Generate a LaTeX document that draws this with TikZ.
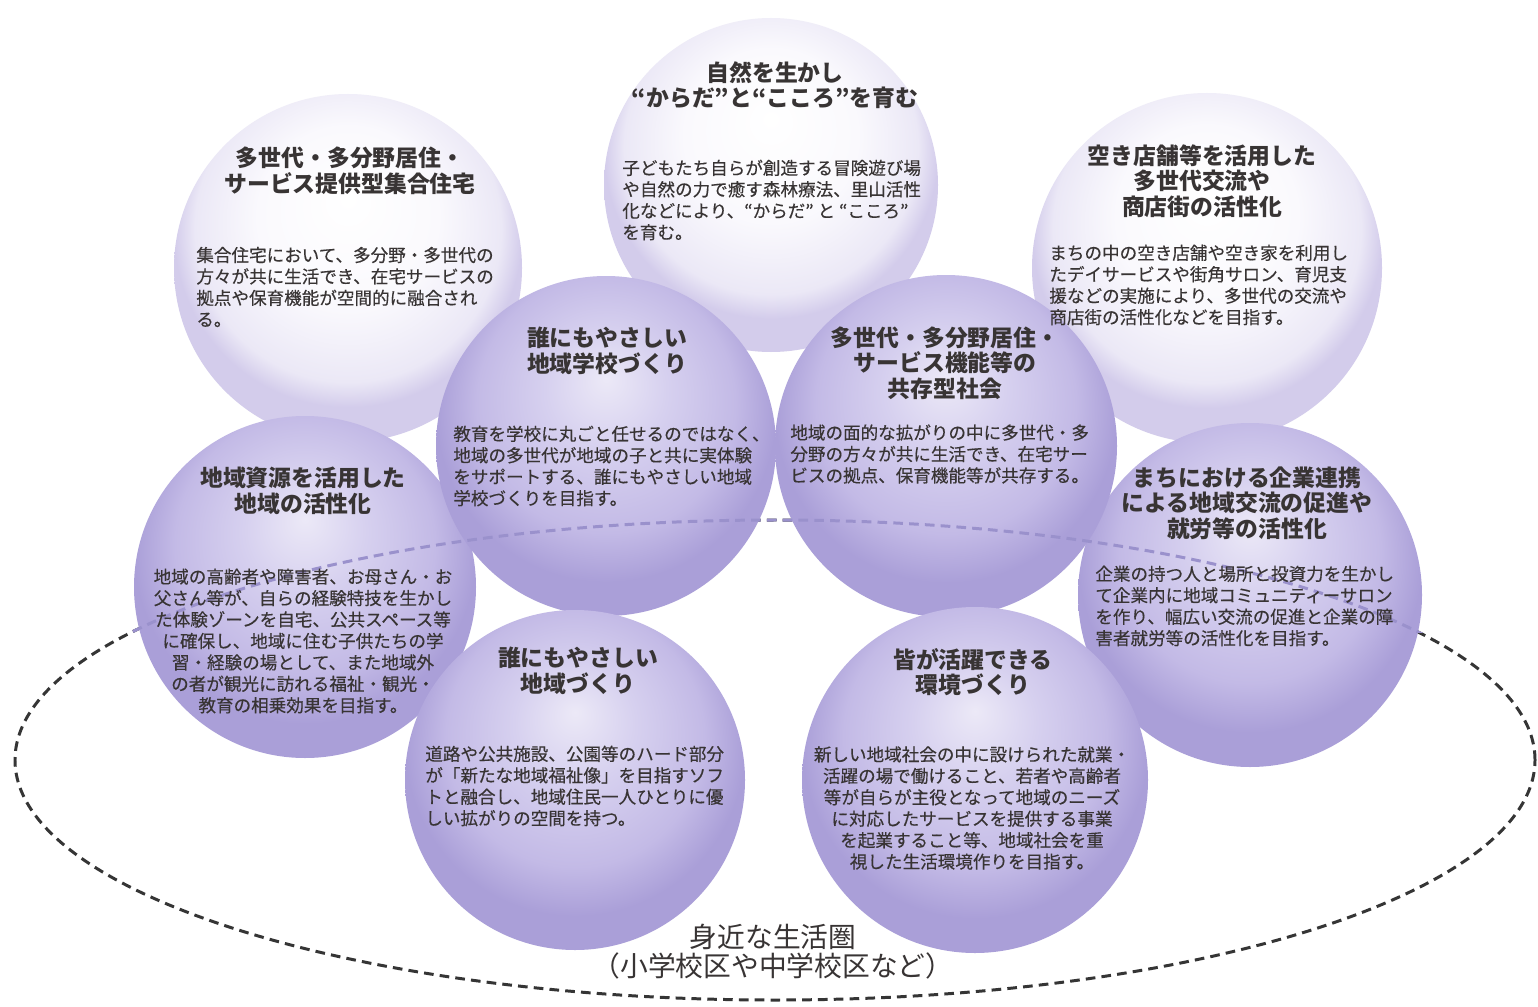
\documentclass[tikz,border=0pt]{standalone}
\usepackage{fontspec}
\setmainfont{Noto Sans CJK JP}
\newfontfamily\bodyjp{Noto Sans CJK JP}[FakeBold=0.35]
\definecolor{txt}{HTML}{383434}
\definecolor{dashdark}{HTML}{353535}
\definecolor{dashlight}{HTML}{9A91CC}
\definecolor{lavA}{HTML}{ECE9F7}
\definecolor{lavB}{HTML}{D6D0EF}
\definecolor{lavC}{HTML}{C3BAE6}
\definecolor{lavD}{HTML}{AA9FD8}
\definecolor{paleA}{HTML}{FFFFFF}
\definecolor{paleB}{HTML}{FAF9FD}
\definecolor{paleC}{HTML}{EBE8F6}
\definecolor{paleD}{HTML}{D3CCEB}
\pgfdeclareradialshading{bubblelav}{\pgfpoint{0bp}{10bp}}{color(0bp)=(lavA); color(9bp)=(lavB); color(19bp)=(lavC); color(25bp)=(lavD); color(50bp)=(lavD)}
\pgfdeclareradialshading{bubblepale}{\pgfpoint{0bp}{10bp}}{color(0bp)=(paleA); color(13bp)=(paleB); color(22bp)=(paleC); color(25bp)=(paleD); color(50bp)=(paleD)}
\tikzset{
  ttl/.style={font=\bfseries\fontsize{13}{14.5}\selectfont, text=txt, align=center, inner sep=0pt},
  bdy/.style={font=\bodyjp\fontsize{10}{12.2}\selectfont, text=txt, inner sep=0pt},
  bdyl/.style={bdy, align=left, anchor=west},
  bdyc/.style={bdy, align=center},
  ring/.style={line width=1.7pt, dash pattern=on 5.5pt off 3.5pt},
  pale/.style={shading=bubblepale},
  lav/.style={shading=bubblelav}
}
\begin{document}
\begin{tikzpicture}[x=0.02cm, y=0.02cm]
\useasboundingbox (0,0) rectangle (1538,-1007);
\fill[white] (0,0) rectangle (1538,-1007);
% centres
\coordinate (c1) at (771,-185);
\coordinate (c2) at (348,-268);
\coordinate (c3) at (1207,-268);
\coordinate (c4) at (606,-446);
\coordinate (c5) at (946,-446);
\coordinate (c6) at (305,-587);
\coordinate (c7) at (1250,-595);
\coordinate (c8) at (575,-780);
\coordinate (c9) at (975,-780);
\coordinate (ec) at (775,-760);
% dashed area (back)
\draw[ring, dashdark] (ec) ellipse [x radius=760, y radius=240];
% bubbles
\shade[pale] (c1) circle [radius=167];
\shade[pale] (c2) circle [radius=174];
\shade[pale] (c3) circle [radius=175];
\shade[lav] (c6) circle [radius=171];
\shade[lav] (c7) circle [radius=172];
\shade[lav] (c4) circle [radius=170];
\shade[lav] (c5) circle [radius=171];
\shade[lav] (c8) circle [radius=170];
\shade[lav] (c9) circle [radius=173];
% upper part of the dashed area seen through bubbles
\begin{scope}
\clip (0,0) rectangle (1538,-632);
\draw[ring, dashlight] (ec) ellipse [x radius=760, y radius=240];
\end{scope}
% texts
\node[ttl] (t1) at (775,-85) {自然を生かし\\“からだ”と“こころ”を育む};
\node[bdyl] (b1) at (622,-200) {子どもたち自らが創造する冒険遊び場\\や自然の力で癒す森林療法、里山活性\\化などにより、“からだ” と “こころ”\\を育む。};
\node[ttl] (t2) at (350,-171) {多世代・多分野居住・\\サービス提供型集合住宅};
\node[bdyl] (b2) at (196,-287) {集合住宅において、多分野・多世代の\\方々が共に生活でき、在宅サービスの\\拠点や保育機能が空間的に融合され\\る。};
\node[ttl] (t3) at (1202,-181) {空き店舗等を活用した\\多世代交流や\\商店街の活性化};
\node[bdyl] (b3) at (1049,-285) {まちの中の空き店舗や空き家を利用し\\たデイサービスや街角サロン、育児支\\援などの実施により、多世代の交流や\\商店街の活性化などを目指す。};
\node[ttl] (t4) at (607,-351) {誰にもやさしい\\地域学校づくり};
\node[bdyl] (b4) at (453,-466) {教育を学校に丸ごと任せるのではなく、\\地域の多世代が地域の子と共に実体験\\をサポートする、誰にもやさしい地域\\学校づくりを目指す。};
\node[ttl] (t5) at (945,-363) {多世代・多分野居住・\\サービス機能等の\\共存型社会};
\node[bdyl] (b5) at (790,-454) {地域の面的な拡がりの中に多世代・多\\分野の方々が共に生活でき、在宅サー\\ビスの拠点、保育機能等が共存する。};
\node[ttl] (t6) at (303,-491) {地域資源を活用した\\地域の活性化};
\node[bdyc] (b6) at (303,-641) {地域の高齢者や障害者、お母さん・お\\父さん等が、自らの経験特技を生かし\\た体験ゾーンを自宅、公共スペース等\\に確保し、地域に住む子供たちの学\\習・経験の場として、また地域外\\の者が観光に訪れる福祉・観光・\\教育の相乗効果を目指す。};
\node[ttl] (t7) at (1247,-503) {まちにおける企業連携\\による地域交流の促進や\\就労等の活性化};
\node[bdyl] (b7) at (1095,-606) {企業の持つ人と場所と投資力を生かし\\て企業内に地域コミュニティーサロン\\を作り、幅広い交流の促進と企業の障\\害者就労等の活性化を目指す。};
\node[ttl] (t8) at (578,-671) {誰にもやさしい\\地域づくり};
\node[bdyl] (b8) at (425,-786) {道路や公共施設、公園等のハード部分\\が「新たな地域福祉像」を目指すソフ\\トと融合し、地域住民一人ひとりに優\\しい拡がりの空間を持つ。};
\node[ttl] (t9) at (973,-672) {皆が活躍できる\\環境づくり};
\node[bdyc] (b9) at (972,-808) {新しい地域社会の中に設けられた就業・\\活躍の場で働けること、若者や高齢者\\等が自らが主役となって地域のニーズ\\に対応したサービスを提供する事業\\を起業すること等、地域社会を重\\視した生活環境作りを目指す。};
\node[font=\fontsize{15.8}{16.6}\selectfont, text=txt, align=center, inner sep=0pt] (lbl) at (773,-952) {身近な生活圏\\（小学校区や中学校区など）};
\end{tikzpicture}
\end{document}
